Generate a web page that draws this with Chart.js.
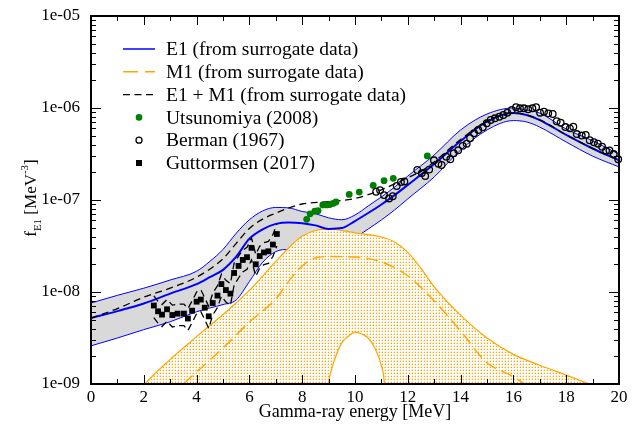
<!DOCTYPE html>
<html>
<head>
<meta charset="utf-8">
<script src="https://cdn.jsdelivr.net/npm/chart.js"></script>
<style>
  html, body { margin:0; padding:0; background:#fff; }
</style>
</head>
<body>
<canvas id="c" width="644" height="425"></canvas>
<script>
// axes
const xTickValues = [0,2,4,6,8,10,12,14,16,18,20];
const xTickLabels = ['0','2','4','6','8','10','12','14','16','18','20'];
const yTickValues = [1e-9,1e-8,1e-7,1e-6,1e-5];
const yTickLabels = ['1e-09','1e-08','1e-07','1e-06','1e-05'];

// E1 strength from surrogate data (band + central)
const e1X = [0,1,2,3,4,4.5,5,5.5,6,6.5,7,7.5,8,8.5,9,9.5,10,10.5,11,11.5,12,13,14,15,16,16.5,17,18,19,20];
const e1Upper = [7.6e-9,9.2e-9,1.1e-8,1.35e-8,1.68e-8,2.15e-8,2.9e-8,4.35e-8,6.1e-8,7.6e-8,8.3e-8,8.2e-8,7.5e-8,7.1e-8,6.4e-8,6.1e-8,6.87e-8,8.61e-8,1.08e-7,1.38e-7,1.82e-7,3.09e-7,5.77e-7,8.6e-7,1.0e-6,9.5e-7,8.8e-7,5.9e-7,4.4e-7,3.15e-7];
const e1Central = [5.2e-9,6.2e-9,7.5e-9,9.6e-9,1.22e-8,1.45e-8,1.74e-8,2.42e-8,3.8e-8,4.8e-8,5.5e-8,5.7e-8,5.6e-8,5.3e-8,4.85e-8,4.95e-8,5.91e-8,7.22e-8,8.93e-8,1.13e-7,1.46e-7,2.46e-7,4.38e-7,7.1e-7,8.8e-7,8.4e-7,7.4e-7,5.1e-7,3.63e-7,2.7e-7];
const e1Lower = [2.6e-9,3.16e-9,3.9e-9,4.75e-9,6.1e-9,6.7e-9,7.3e-9,8.2e-9,1.3e-8,2.1e-8,2.75e-8,2.9e-8,2.85e-8,2.7e-8,2.65e-8,2.95e-8,3.86e-8,4.84e-8,6.07e-8,7.79e-8,1.03e-7,1.78e-7,3.49e-7,5.77e-7,7.3e-7,7.05e-7,6.2e-7,4.27e-7,3.0e-7,2.29e-7];

// E1 + M1
const sumX = [0,1,2,3,4,5,5.5,6,6.5,7,7.5,8,9,10,11,12,12.5,13,14,15,16,17,18,19,20];
const sumY = [5.2e-9,6.6e-9,8.8e-9,1.1e-8,1.45e-8,2.3e-8,3.38e-8,4.9e-8,6.2e-8,7.2e-8,8.2e-8,9.05e-8,9.6e-8,1.04e-7,1.29e-7,1.75e-7,2.05e-7,2.6e-7,4.55e-7,7.2e-7,8.9e-7,7.45e-7,5.12e-7,3.64e-7,2.7e-7];

// M1 band
const m1UpperX = [0,1,2,3,4,5,6,7,7.5,8,8.5,9,10,11,11.5,12,12.5,13,14,15,16,17,18,19,20];
const m1Upper = [1.5e-10,4e-10,9.7e-10,1.85e-9,3.27e-9,5.7e-9,1.04e-8,2.15e-8,3.03e-8,4.06e-8,4.66e-8,4.82e-8,4.4e-8,3.96e-8,3.5e-8,2.7e-8,1.81e-8,1.14e-8,5.6e-9,3.16e-9,2.1e-9,1.6e-9,1.25e-9,9.7e-10,7.5e-10];
const m1CentralX = [3,3.5,4,5,6,7,7.5,8,8.5,9,10,11,12,13,14,15,16,16.5,17];
const m1Central = [7.5e-10,1e-9,1.35e-9,2.46e-9,4.72e-9,8.4e-9,1.32e-8,1.92e-8,2.34e-8,2.43e-8,2.4e-8,2.12e-8,1.5e-8,8e-9,3.77e-9,1.7e-9,1.2e-9,9.7e-10,8e-10];
const m1LowerX = [8.9,9,9.1,9.25,9.5,9.75,10,10.25,10.5,10.75,11,11.1,11.2];
const m1Lower = [3e-10,1e-9,1.4e-9,1.92e-9,2.8e-9,3.3e-9,3.67e-9,3.5e-9,3.16e-9,2.46e-9,1.57e-9,1.1e-9,3e-10];

// Guttormsen (2017)
const gX = [2.38,2.54,2.69,2.88,3.08,3.28,3.52,3.67,3.83,4.00,4.16,4.31,4.46,4.61,4.79,4.94,5.11,5.28,5.42,5.59,5.75,5.91,6.08,6.24,6.39,6.55,6.72,6.89,7.04];
const gY = [7.13e-9,6.17e-9,5.68e-9,6.49e-9,5.62e-9,5.82e-9,5.82e-9,5.15e-9,6.27e-9,7.85e-9,8.27e-9,6.75e-9,5.44e-9,7.59e-9,9.14e-9,1.22e-8,1.05e-8,9.6e-9,1.61e-8,1.92e-8,2.23e-8,2.39e-8,3.02e-8,2.0e-8,2.46e-8,2.69e-8,2.77e-8,3.28e-8,4.27e-8];
const gUpper = [9.1e-9,7.9e-9,7.3e-9,8.3e-9,7.2e-9,7.4e-9,7.4e-9,6.6e-9,8.0e-9,1.0e-8,1.06e-8,8.6e-9,7.0e-9,9.7e-9,1.17e-8,1.56e-8,1.34e-8,1.23e-8,2.06e-8,2.46e-8,2.85e-8,3.06e-8,3.87e-8,2.56e-8,3.15e-8,3.44e-8,3.55e-8,4.2e-8,5.47e-8];
const gLower = [5.28e-9,4.57e-9,4.21e-9,4.81e-9,4.16e-9,4.31e-9,4.31e-9,3.81e-9,4.64e-9,5.81e-9,6.13e-9,5.0e-9,4.03e-9,5.62e-9,6.77e-9,9.04e-9,7.78e-9,7.11e-9,1.19e-8,1.42e-8,1.65e-8,1.77e-8,2.24e-8,1.48e-8,1.82e-8,1.99e-8,2.05e-8,2.43e-8,3.16e-8];

// Utsunomiya (2008)
const uX = [8.17,8.30,8.48,8.60,8.78,8.93,9.05,9.17,9.28,9.78,10.16,10.69,11.10,11.45,12.74];
const uY = [6.17e-8,7.08e-8,7.55e-8,7.65e-8,8.83e-8,8.83e-8,8.94e-8,9.17e-8,9.51e-8,1.15e-7,1.22e-7,1.44e-7,1.62e-7,1.72e-7,3.01e-7];

// Berman (1967)
const bX = [10.80,10.95,11.10,11.29,11.43,11.58,11.74,11.87,12.36,12.53,12.66,12.81,12.99,13.16,13.28,13.46,13.61,13.74,13.91,14.08,14.23,14.36,14.51,14.67,14.84,14.99,15.14,15.30,15.47,15.62,15.77,15.94,16.10,16.25,16.40,16.56,16.72,16.86,17.01,17.16,17.32,17.49,17.64,17.79,17.97,18.14,18.27,18.40,18.59,18.74,18.89,19.05,19.20,19.36,19.51,19.64,19.80,19.97];
const bY = [1.23e-7,1.28e-7,1.13e-7,1.04e-7,1.10e-7,1.42e-7,1.57e-7,1.59e-7,2.12e-7,1.96e-7,1.82e-7,2.14e-7,2.70e-7,2.48e-7,2.40e-7,2.96e-7,2.77e-7,3.22e-7,3.47e-7,3.88e-7,4.09e-7,4.69e-7,5.31e-7,5.77e-7,6.17e-7,6.82e-7,7.41e-7,7.73e-7,8.04e-7,8.39e-7,8.89e-7,9.51e-7,1.02e-6,9.93e-7,9.93e-7,9.68e-7,9.93e-7,1.02e-6,8.89e-7,9.12e-7,8.75e-7,8.61e-7,7.19e-7,6.92e-7,6.21e-7,6.01e-7,6.26e-7,5.21e-7,5.02e-7,5.09e-7,4.46e-7,4.25e-7,4.09e-7,3.79e-7,3.44e-7,3.45e-7,3.16e-7,2.77e-7];

const legendLabels = ['E1 (from surrogate data)','M1 (from surrogate data)','E1 + M1 (from surrogate data)','Utsunomiya (2008)','Berman (1967)','Guttormsen (2017)'];

const SERIF = '"Liberation Serif", "DejaVu Serif", serif';
const BLUE = '#0000ff', ORANGE = '#ffa500', GREEN = '#008000', GRAY = '#d9d9d9';

const pts = (xs, ys) => xs.map((x, i) => ({x, y: ys[i]}));

const canvas = document.getElementById('c');
const ctx0 = canvas.getContext('2d');

// dotted fill for the M1 band
function dotPattern() {
  const c = document.createElement('canvas');
  c.width = 3; c.height = 3;
  const g = c.getContext('2d');
  g.fillStyle = '#fff'; g.fillRect(0, 0, 3, 3);
  g.fillStyle = ORANGE; g.fillRect(1, 1, 1, 1);
  g.fillStyle = 'rgba(255,165,0,0.3)'; g.fillRect(0, 1, 1, 1); g.fillRect(1, 0, 1, 1);
  return ctx0.createPattern(c, 'repeat');
}

const frame = {
  id: 'frame',
  afterDraw(chart) {
    const {ctx, chartArea: a, scales: {x, y}} = chart;
    ctx.save();
    ctx.strokeStyle = '#000';
    ctx.lineWidth = 1;
    ctx.beginPath();
    for (let v = 1; v < 20; v++) {
      const px = Math.round(x.getPixelForValue(v)) + 0.5;
      const len = v % 2 ? 5 : 9;
      ctx.moveTo(px, a.bottom); ctx.lineTo(px, a.bottom - len);
      ctx.moveTo(px, a.top); ctx.lineTo(px, a.top + len);
    }
    for (let d = -9; d <= -5; d++) {
      for (let m = 1; m <= 9; m++) {
        const v = m * Math.pow(10, d);
        if (v <= 1e-9 || v >= 1e-5) continue;
        const py = Math.round(y.getPixelForValue(v)) + 0.5;
        const len = m === 1 ? 10 : 5;
        ctx.moveTo(a.left, py); ctx.lineTo(a.left + len, py);
        ctx.moveTo(a.right, py); ctx.lineTo(a.right - len, py);
      }
    }
    ctx.stroke();
    ctx.lineWidth = 2;
    ctx.strokeRect(a.left, a.top, a.right - a.left, a.bottom - a.top);

    // axis titles
    ctx.fillStyle = '#000';
    ctx.font = '18px ' + SERIF;
    ctx.textAlign = 'center';
    ctx.textBaseline = 'middle';
    ctx.fillText('Gamma-ray energy [MeV]', (a.left + a.right) / 2, 412);

    ctx.save();
    ctx.translate(36, 198);
    ctx.rotate(-Math.PI / 2);
    ctx.textAlign = 'left';
    ctx.textBaseline = 'alphabetic';
    const parts = [['f', 17, 0], ['E1', 11, 5], [' [MeV', 17, 0], ['-3', 11, -8], [']', 17, 0]];
    let total = 0;
    parts.forEach(p => { ctx.font = p[1] + 'px ' + SERIF; total += ctx.measureText(p[0]).width; });
    let cx = -total / 2;
    parts.forEach(p => {
      ctx.font = p[1] + 'px ' + SERIF;
      ctx.fillText(p[0], cx, p[2]);
      cx += ctx.measureText(p[0]).width;
    });
    ctx.restore();

    // legend
    const x0 = 123, x1 = 155, xm = 139, tx = 166;
    legendLabels.forEach((lab, i) => {
      const ly = 49 + i * 22.8;
      ctx.setLineDash([]);
      if (i === 0) {
        ctx.strokeStyle = BLUE; ctx.lineWidth = 1.5;
        ctx.beginPath(); ctx.moveTo(x0, ly); ctx.lineTo(x1, ly); ctx.stroke();
      } else if (i === 1) {
        ctx.strokeStyle = ORANGE; ctx.lineWidth = 1.5; ctx.setLineDash([15, 7]);
        ctx.beginPath(); ctx.moveTo(x0, ly); ctx.lineTo(x1, ly); ctx.stroke();
      } else if (i === 2) {
        ctx.strokeStyle = '#000'; ctx.lineWidth = 1.3; ctx.setLineDash([7, 4.5]);
        ctx.beginPath(); ctx.moveTo(x0, ly); ctx.lineTo(x1, ly); ctx.stroke();
      } else if (i === 3) {
        ctx.fillStyle = GREEN;
        ctx.beginPath(); ctx.arc(xm, ly, 3.3, 0, Math.PI * 2); ctx.fill();
      } else if (i === 4) {
        ctx.strokeStyle = '#000'; ctx.lineWidth = 1.3;
        ctx.beginPath(); ctx.arc(xm, ly, 3, 0, Math.PI * 2); ctx.stroke();
      } else {
        ctx.fillStyle = '#000';
        ctx.fillRect(xm - 3, ly - 3, 6, 6);
      }
      ctx.setLineDash([]);
      ctx.fillStyle = '#000';
      ctx.font = '19.5px ' + SERIF;
      ctx.textAlign = 'left';
      ctx.textBaseline = 'middle';
      ctx.fillText(lab, tx, ly + 1);
    });
    ctx.restore();
  }
};

const line = (data, color, width, extra) => Object.assign({
  data, borderColor: color, borderWidth: width, pointRadius: 0, fill: false,
  cubicInterpolationMode: 'monotone'
}, extra || {});

const scatter = (data, extra) => Object.assign({
  data, showLine: false, borderWidth: 0, clip: false
}, extra);

new Chart(canvas, {
  type: 'line',
  data: {
    datasets: [
      line(pts(e1X, e1Upper), BLUE, 1, {fill: 1, backgroundColor: GRAY, order: 20}),      // 0
      line(pts(e1X, e1Lower), BLUE, 1, {order: 19}),                                      // 1
      line(pts(m1UpperX, m1Upper), ORANGE, 1.2, {fill: 'start', backgroundColor: dotPattern(), order: 18}), // 2
      line(pts(m1LowerX, m1Lower), ORANGE, 1.2, {fill: 'start', backgroundColor: '#fff', order: 17}),       // 3
      line(pts(m1CentralX, m1Central), ORANGE, 1.4, {borderDash: [12, 6], order: 16}),    // 4
      line(pts(e1X, e1Central), BLUE, 2, {order: 15}),                                    // 5
      line(pts(sumX, sumY), '#000', 1.3, {borderDash: [7, 4.5], order: 14}),              // 6
      line(pts(gX, gUpper), '#000', 1.3, {borderDash: [7, 4.5], cubicInterpolationMode: 'default', tension: 0, order: 13}),
      line(pts(gX, gLower), '#000', 1.3, {borderDash: [7, 4.5], cubicInterpolationMode: 'default', tension: 0, order: 12}),
      scatter(pts(gX, gY), {pointStyle: 'rect', pointRadius: 4.1, pointBackgroundColor: '#000', pointBorderWidth: 0, order: 11}),
      scatter(pts(uX, uY), {pointStyle: 'circle', pointRadius: 3.4, pointBackgroundColor: GREEN, pointBorderWidth: 0, order: 10}),
      scatter(pts(bX, bY), {pointStyle: 'circle', pointRadius: 3.3, pointBackgroundColor: 'rgba(0,0,0,0)', pointBorderColor: '#000', pointBorderWidth: 1.3, order: 9})
    ]
  },
  options: {
    responsive: false,
    animation: false,
    devicePixelRatio: 1,
    layout: {padding: {top: 16, right: 25, left: 0, bottom: 0}},
    plugins: {legend: {display: false}, tooltip: {enabled: false}},
    scales: {
      x: {
        type: 'linear', min: 0, max: 20,
        grid: {display: false}, border: {display: false},
        afterBuildTicks: s => { s.ticks = xTickValues.map(v => ({value: v})); },
        afterFit: s => { s.height = 41; },
        ticks: {autoSkip: false, maxRotation: 0, padding: -5, color: '#000',
                font: {family: SERIF, size: 17}, callback: (v, i) => xTickLabels[i]}
      },
      y: {
        type: 'logarithmic', min: 1e-9, max: 1e-5,
        grid: {display: false}, border: {display: false},
        afterBuildTicks: s => { s.ticks = yTickValues.map(v => ({value: v})); },
        afterFit: s => { s.width = 91; },
        ticks: {autoSkip: false, padding: 3, color: '#000',
                font: {family: SERIF, size: 17}, callback: (v, i) => yTickLabels[i]}
      }
    }
  },
  plugins: [frame]
});
</script>
</body>
</html>
